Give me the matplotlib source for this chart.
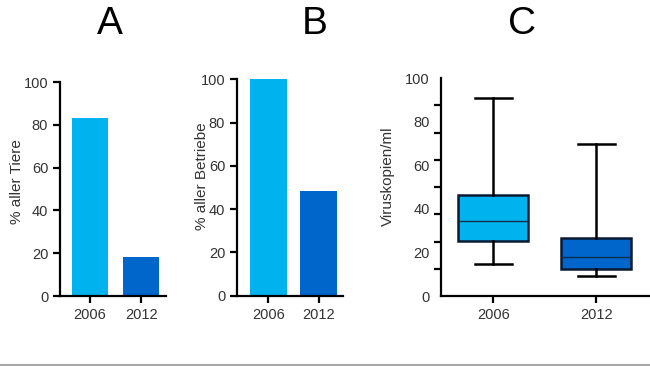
import matplotlib
matplotlib.use("Agg")
import matplotlib.pyplot as plt
from matplotlib.lines import Line2D
import numpy as np

plt.rcParams['font.family'] = ['Liberation Sans', 'DejaVu Sans']

years = ["2006", "2012"]
tiere = [83.4, 18.0]
betriebe = [100.0, 48.4]
# box stats: whisker low, q1, median, q3, whisker high
box_2006 = dict(whislo=14.7, q1=25.2, med=34.5, q3=46.3, whishi=90.7)
box_2012 = dict(whislo=9.2, q1=12.2, med=18.1, q3=26.8, whishi=69.7)
yticks = [0, 20, 40, 60, 80, 100]
c_yminor = [0, 12.5, 25, 37.5, 50, 62.5, 75, 87.5, 100]

light = "#00B2EE"
dark = "#0066CC"
txt = "#333333"

W, H = 650, 366
fig = plt.figure(figsize=(6.5, 3.66), dpi=100)

def ax_at(l, r, b, t):
    return fig.add_axes([l / W, 1 - b / H, (r - l) / W, (b - t) / H])

def style(ax):
    for s in ["top", "right"]:
        ax.spines[s].set_visible(False)
    for s in ["left", "bottom"]:
        ax.spines[s].set_linewidth(1.6)
        ax.spines[s].set_color("black")
    ax.tick_params(axis="both", direction="out", length=5, width=1.6,
                   labelsize=10.5, labelcolor=txt, color="black")
    ax.set_ylim(0, 100)
    ax.set_yticks(yticks)
    ax.set_xticks([0, 1])
    ax.set_xticklabels(years)

def ylab(x, y, s):
    fig.text(x / W, 1 - y / H, s, rotation=90, ha="center", va="center",
             fontsize=11, color=txt)

# Panel A
axA = ax_at(60, 166, 296, 82)
axA.bar([0, 1], tiere, width=0.7, color=[light, dark])
axA.set_xlim(-0.58, 1.48)
style(axA)
ylab(17, 182, "% aller Tiere")

# Panel B
axB = ax_at(237, 343, 295.7, 79.3)
axB.bar([0, 1], betriebe, width=0.73, color=[light, dark])
axB.set_xlim(-0.62, 1.48)
style(axB)
ylab(202, 176.5, "% aller Betriebe")

# Panel C
axC = ax_at(440.7, 650, 296, 78)
stats = [dict(box_2006, label="2006"), dict(box_2012, label="2012")]
bp = axC.bxp(stats, positions=[0, 1], widths=0.68, showfliers=False,
             patch_artist=True,
             boxprops=dict(linewidth=1.8, edgecolor="#0A1A33"),
             whiskerprops=dict(linewidth=1.8, color="black"),
             capprops=dict(linewidth=1.8, color="black"),
             medianprops=dict(linewidth=1.0, color="#0A3050"),
             capwidths=0.36)
for patch, col in zip(bp["boxes"], [light, dark]):
    patch.set_facecolor(col)
axC.set_xlim(-0.51, 1.52)
style(axC)
axC.set_yticks(c_yminor, minor=True)
axC.tick_params(axis="y", which="major", length=0, pad=8)
axC.tick_params(axis="y", which="minor", length=5, width=1.6, color="black")
ylab(388, 176.5, "Viruskopien/ml")

# Titles
for x, s in [(110, "A"), (315, "B"), (522, "C")]:
    fig.text(x / W, 1 - 24 / H, s, fontsize=28, ha="center", va="center", color="black")

# bottom rule
fig.add_artist(Line2D([0, 1], [1 - 365 / H, 1 - 365 / H], color="#A8A8A8", linewidth=1.5,
                      transform=fig.transFigure))

fig.savefig("out.png", dpi=100)
